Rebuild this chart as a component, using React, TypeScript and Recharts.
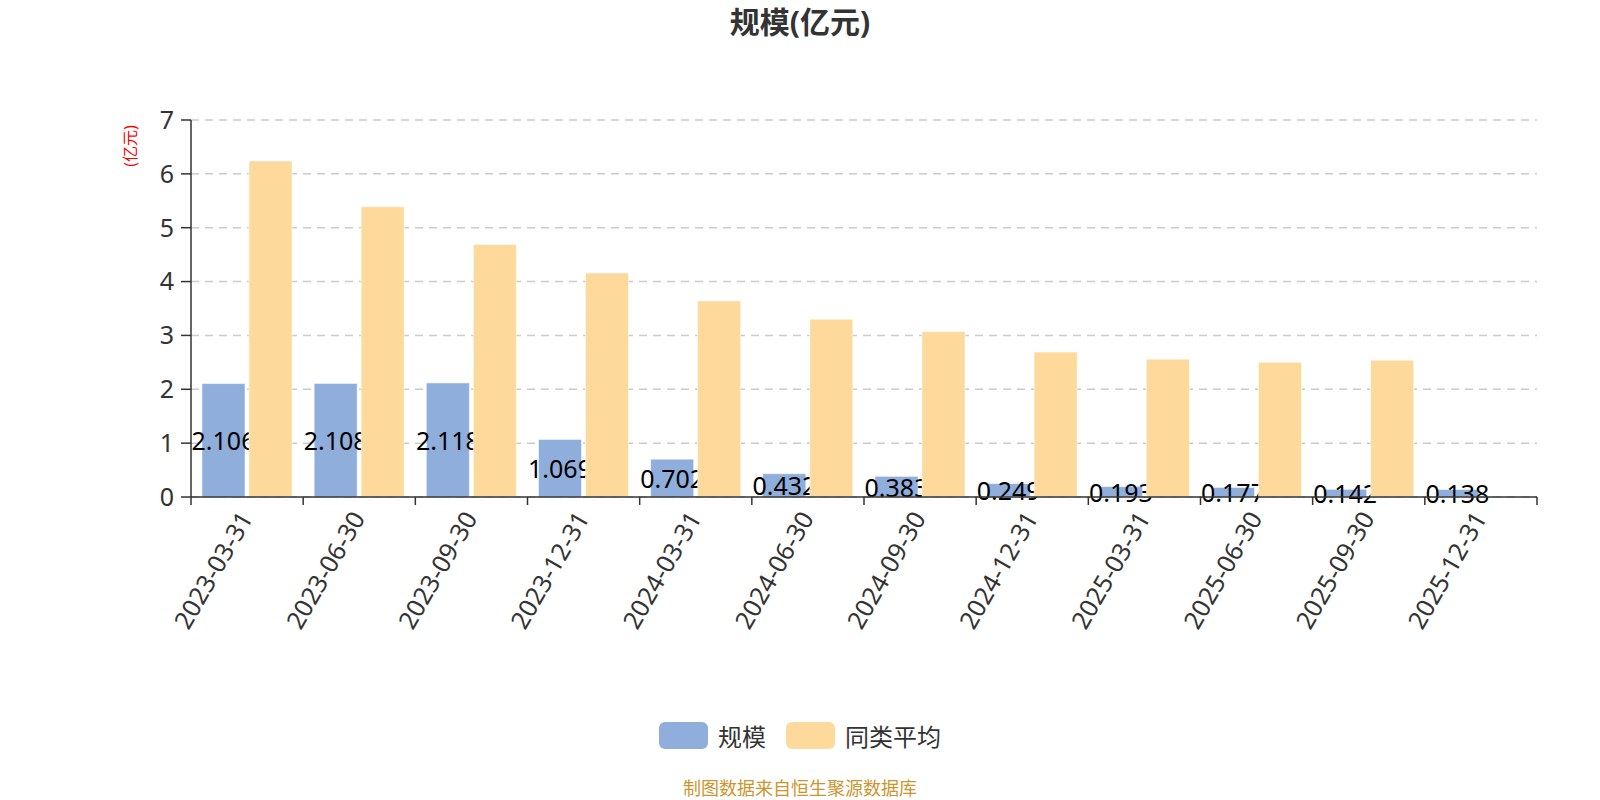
import { BarChart, Bar, XAxis, YAxis, CartesianGrid } from "recharts";

const dates = [
  "2023-03-31",
  "2023-06-30",
  "2023-09-30",
  "2023-12-31",
  "2024-03-31",
  "2024-06-30",
  "2024-09-30",
  "2024-12-31",
  "2025-03-31",
  "2025-06-30",
  "2025-09-30",
  "2025-12-31",
];
const fundSize = [2.106, 2.108, 2.118, 1.069, 0.702, 0.432, 0.383, 0.249, 0.193, 0.177, 0.142, 0.138];
const peerAvg = [6.24, 5.39, 4.69, 4.16, 3.64, 3.3, 3.07, 2.69, 2.56, 2.5, 2.54, null];
const yTicks = [0, 1, 2, 3, 4, 5, 6, 7];

const data = dates.map((d, i) => ({ date: d, size: fundSize[i], avg: peerAvg[i] }));

const W = 1600;
const H = 800;
const margin = { top: 120, right: 63, bottom: 153, left: 131 };
const yAxisW = 60;
const band = (W - margin.left - margin.right - yAxisW) / dates.length;

const BLUE = "#8FAEDB";
const ORANGE = "#FDD99B";
const font = '"Noto Sans", "Noto Sans CJK SC", sans-serif';

function DateTick(props: any) {
  const { x, y, payload } = props;
  const idx = payload.index ?? props.index;
  const half = band / 2;
  const tx = x - 2;
  const ty = y + 16;
  return (
    <g>
      <line x1={x - half} y1={y} x2={x - half} y2={y + 8} stroke="#333" strokeWidth={1.5} />
      {idx === dates.length - 1 && (
        <line x1={x + half} y1={y} x2={x + half} y2={y + 8} stroke="#333" strokeWidth={1.5} />
      )}
      <text
        x={tx}
        y={ty}
        transform={`rotate(-60, ${tx}, ${ty})`}
        textAnchor="end"
        dominantBaseline="central"
        fill="#333"
        fontSize={25}
        fontFamily={font}
      >
        {payload.value}
      </text>
    </g>
  );
}

// bar + value label in one shape, so the next series covers the label like the original
function SizeBar(props: any) {
  const { x, y, width, height, fill, value } = props;
  const v = Array.isArray(value) ? value[1] - value[0] : value;
  return (
    <g>
      <rect x={x} y={y} width={width} height={height} fill={fill} stroke="rgba(255,255,255,0.5)" />
      <text
        x={x + width / 2}
        y={y + height / 2}
        textAnchor="middle"
        dominantBaseline="central"
        fill="#000"
        fontSize={25}
        fontFamily={font}
      >
        {v}
      </text>
    </g>
  );
}

export default function App() {
  return (
    <div style={{ position: "absolute", left: 0, top: 0, width: W, height: H, background: "#fff", fontFamily: font }}>
      <div
        style={{
          position: "absolute",
          top: 3,
          width: W,
          textAlign: "center",
          fontSize: 30,
          fontWeight: "bold",
          color: "#333",
          lineHeight: "38px",
        }}
      >
        规模(亿元)
      </div>
      <div
        style={{
          position: "absolute",
          left: 129,
          top: 146,
          transform: "translate(-50%, -50%) rotate(-90deg)",
          color: "#f00",
          fontSize: 16,
          whiteSpace: "nowrap",
        }}
      >
        (亿元)
      </div>
      <BarChart width={W} height={H} data={data} margin={margin} barSize={43} barGap={4}>
        <CartesianGrid vertical={false} stroke="#ccc" strokeWidth={1.5} strokeDasharray="8 6" />
        <XAxis
          dataKey="date"
          interval={0}
          height={150}
          tickSize={0}
          tickMargin={0}
          axisLine={{ stroke: "#333", strokeWidth: 1.5 }}
          tick={<DateTick />}
        />
        <YAxis
          width={yAxisW}
          domain={[0, 7]}
          ticks={yTicks}
          interval={0}
          tickSize={10}
          tickMargin={7}
          axisLine={{ stroke: "#333", strokeWidth: 1.5 }}
          tickLine={{ stroke: "#333", strokeWidth: 1.5 }}
          tick={{ fill: "#333", fontSize: 25, fontFamily: font }}
        />
        <Bar dataKey="size" fill={BLUE} shape={<SizeBar />} isAnimationActive={false} />
        <Bar dataKey="avg" fill={ORANGE} stroke="rgba(255,255,255,0.5)" isAnimationActive={false} />
      </BarChart>
      <div
        style={{
          position: "absolute",
          top: 722,
          width: W,
          display: "flex",
          justifyContent: "center",
          alignItems: "center",
          fontSize: 24,
          color: "#333",
          height: 27,
        }}
      >
        <span style={{ width: 49, height: 27, borderRadius: 6, background: BLUE, marginRight: 10 }} />
        <span style={{ marginRight: 20 }}>规模</span>
        <span style={{ width: 49, height: 27, borderRadius: 6, background: ORANGE, marginRight: 10 }} />
        <span>同类平均</span>
      </div>
      <div
        style={{
          position: "absolute",
          top: 776,
          width: W,
          textAlign: "center",
          fontSize: 18,
          color: "#C9962F",
          lineHeight: "24px",
        }}
      >
        制图数据来自恒生聚源数据库
      </div>
    </div>
  );
}
